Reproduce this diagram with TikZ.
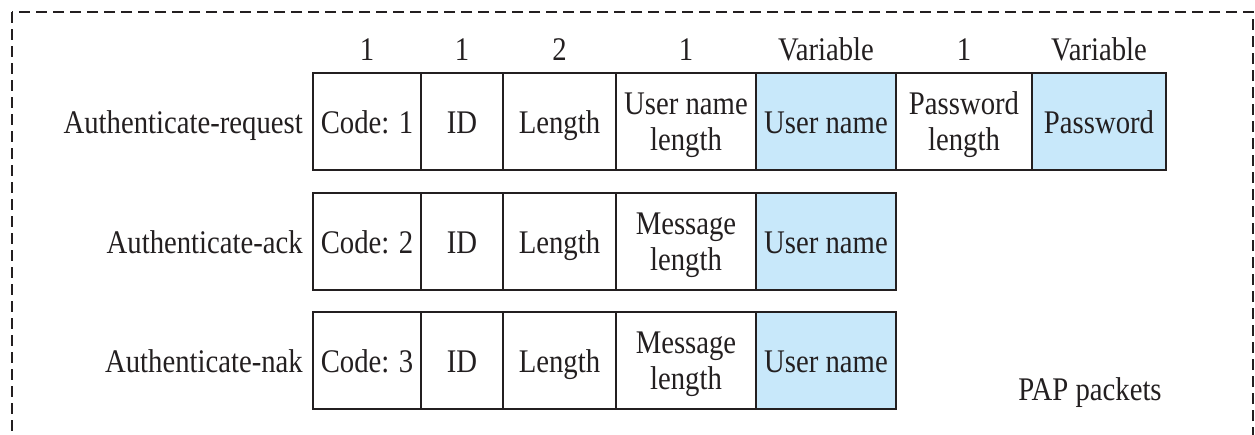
\documentclass[tikz,border=0pt]{standalone}
\usepackage{fontspec}
\setmainfont{Liberation Serif}[FakeStretch=0.87]
\definecolor{fieldblue}{RGB}{200,232,250}
\definecolor{ink}{RGB}{35,31,32}
\tikzset{
  txt/.style={font=\fontsize{33}{36}\selectfont, text=ink, inner sep=0pt},
  cell/.style={txt, draw=ink, line width=1.8pt, minimum height=97pt, align=center, text depth=0pt},
  onecell/.style={cell, text height=23pt},
  vcell/.style={onecell, fill=fieldblue},
  rowlabel/.style={txt, anchor=east, text height=23pt, text depth=0pt},
  head/.style={txt, anchor=base},
  border/.style={draw=ink, line width=2pt, dash pattern=on 11pt off 6pt}
}
\begin{document}
\begin{tikzpicture}[x=1pt,y=-1pt]
\useasboundingbox (0,0) rectangle (1255,434);
\clip (0,0) rectangle (1255,434);
\draw[border] (12,12) rectangle (1253,480);

% header sizes
\node[head] (h1) at (367,60) {1};
\node[head] (h2) at (462,60) {1};
\node[head] (h3) at (559.5,60) {2};
\node[head] (h4) at (686,60) {1};
\node[head] (h5) at (826,60) {Variable};
\node[head] (h6) at (964,60) {1};
\node[head] (h7) at (1099,60) {Variable};

% row 1
\node[onecell, minimum width=108pt] (r1a) at (367,121.5) {Code: 1};
\node[onecell, minimum width=82pt] (r1b) at (462,121.5) {ID};
\node[onecell, minimum width=113pt] (r1c) at (559.5,121.5) {Length};
\node[cell, minimum width=140pt] (r1d) at (686,121.5) {User name\\length};
\node[vcell, minimum width=140pt] (r1e) at (826,121.5) {User name};
\node[cell, minimum width=136pt] (r1f) at (964,121.5) {Password\\length};
\node[vcell, minimum width=134pt] (r1g) at (1099,121.5) {Password};
\node[rowlabel] (l1) at (303,121.5) {Authenticate-request};

% row 2
\node[onecell, minimum width=108pt] (r2a) at (367,241.5) {Code: 2};
\node[onecell, minimum width=82pt] (r2b) at (462,241.5) {ID};
\node[onecell, minimum width=113pt] (r2c) at (559.5,241.5) {Length};
\node[cell, minimum width=140pt] (r2d) at (686,241.5) {Message\\length};
\node[vcell, minimum width=140pt] (r2e) at (826,241.5) {User name};
\node[rowlabel] (l2) at (303,241.5) {Authenticate-ack};

% row 3
\node[onecell, minimum width=108pt] (r3a) at (367,360.5) {Code: 3};
\node[onecell, minimum width=82pt] (r3b) at (462,360.5) {ID};
\node[onecell, minimum width=113pt] (r3c) at (559.5,360.5) {Length};
\node[cell, minimum width=140pt] (r3d) at (686,360.5) {Message\\length};
\node[vcell, minimum width=140pt] (r3e) at (826,360.5) {User name};
\node[rowlabel] (l3) at (303,360.5) {Authenticate-nak};

\node[head] (cap) at (1090,400) {PAP packets};
\end{tikzpicture}
\end{document}
